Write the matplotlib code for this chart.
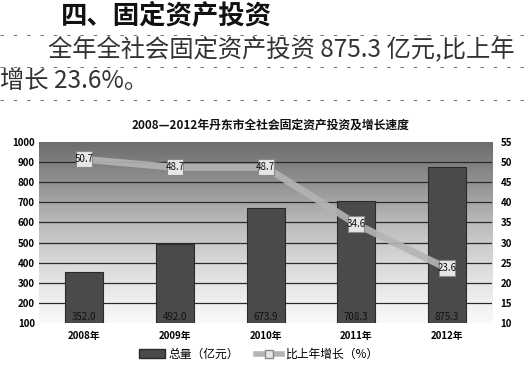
import numpy as np
import matplotlib.pyplot as plt
from matplotlib.lines import Line2D
from matplotlib.patches import Patch

plt.rcParams['font.family'] = ['Noto Sans CJK SC', 'DejaVu Sans']

years = ['2008年', '2009年', '2010年', '2011年', '2012年']
totals = [352.0, 492.0, 673.9, 708.3, 875.3]
growth = [50.7, 48.7, 48.7, 34.6, 23.6]
left_ticks = [100, 200, 300, 400, 500, 600, 700, 800, 900, 1000]
right_ticks = [10, 15, 20, 25, 30, 35, 40, 45, 50, 55]

fig = plt.figure(figsize=(5.28, 3.67), dpi=100)
fig.patch.set_facecolor('white')

# page text above the chart
fig.text(0.115, 0.955, '四、固定资产投资', fontsize=19, fontweight='bold',
         va='center', ha='left', color='#111111')
fig.text(0.09, 0.862, '全年全社会固定资产投资 875.3 亿元,比上年', fontsize=17.5,
         va='center', ha='left', color='#333333')
fig.text(0.0, 0.78, '增长 23.6%。', fontsize=17.5, va='center', ha='left', color='#333333')
for yy in [0.905, 0.818, 0.728]:
    fig.add_artist(Line2D([0, 1], [yy, yy], transform=fig.transFigure,
                          color='#555555', lw=0.6, ls=(0, (4, 12))))

fig.text(0.512, 0.66, '2008—2012年丹东市全社会固定资产投资及增长速度', fontsize=8.5,
         fontweight='bold', ha='center', va='center', color='#111111')

ax = fig.add_axes([0.074, 0.12, 0.858, 0.493])
x = np.arange(len(years))

# gradient background, darker at the top
grad = np.linspace(0, 1, 256).reshape(-1, 1)
ax.imshow(grad, cmap='Greys', vmin=-0.1, vmax=1.6, aspect='auto',
          extent=[-0.5, 4.5, 100, 1000], origin='lower', zorder=0)

for t in left_ticks[1:-1]:
    ax.axhline(t, color='#2a2a2a', lw=0.9, zorder=1)

ax.bar(x, [v - 100 for v in totals], bottom=100, width=0.42, color='#4a4a4a',
       edgecolor='#2a2a2a', linewidth=0.8, zorder=2)
for xi, v in zip(x, totals):
    ax.text(xi, 130, '%.1f' % v, ha='center', va='center', fontsize=7,
            color='#111111', zorder=5)

ax.set_xlim(-0.5, 4.5)
ax.set_ylim(100, 1000)
ax.set_yticks(left_ticks)
ax.set_yticklabels([str(t) for t in left_ticks], fontsize=7, fontweight='bold')
ax.set_xticks(x)
ax.set_xticklabels(years, fontsize=7, fontweight='bold')
ax.tick_params(length=0, pad=6)
ax.tick_params(axis='y', pad=3)
for s in ax.spines.values():
    s.set_visible(False)

ax2 = ax.twinx()
ax2.plot(x, growth, color='#b4b4b4', lw=5, alpha=0.9, zorder=3, solid_capstyle='butt')
ax2.plot(x, growth, ls='none', marker='s', markersize=11, markerfacecolor='#e6e6e6',
         markeredgecolor='#8a8a8a', markeredgewidth=0.8, zorder=4)
for xi, g in zip(x, growth):
    ax2.text(xi, g, '%.1f' % g, ha='center', va='center', fontsize=7,
             color='#111111', zorder=5)
ax2.set_ylim(10, 55)
ax2.set_yticks(right_ticks)
ax2.set_yticklabels([str(t) for t in right_ticks], fontsize=7, fontweight='bold')
ax2.tick_params(length=0, pad=6)
for s in ax2.spines.values():
    s.set_visible(False)

handles = [Patch(facecolor='#4a4a4a', edgecolor='#2a2a2a'),
           Line2D([0], [0], color='#b4b4b4', lw=4, marker='s', markersize=6,
                  markerfacecolor='#e6e6e6', markeredgecolor='#8a8a8a')]
fig.legend(handles, ['总量（亿元）', '比上年增长（%）'], loc='center',
           bbox_to_anchor=(0.49, 0.035), ncol=2, frameon=False, fontsize=8.5,
           handlelength=2.2, columnspacing=1.5, handletextpad=0.3)

fig.savefig('out.png', dpi=100)
